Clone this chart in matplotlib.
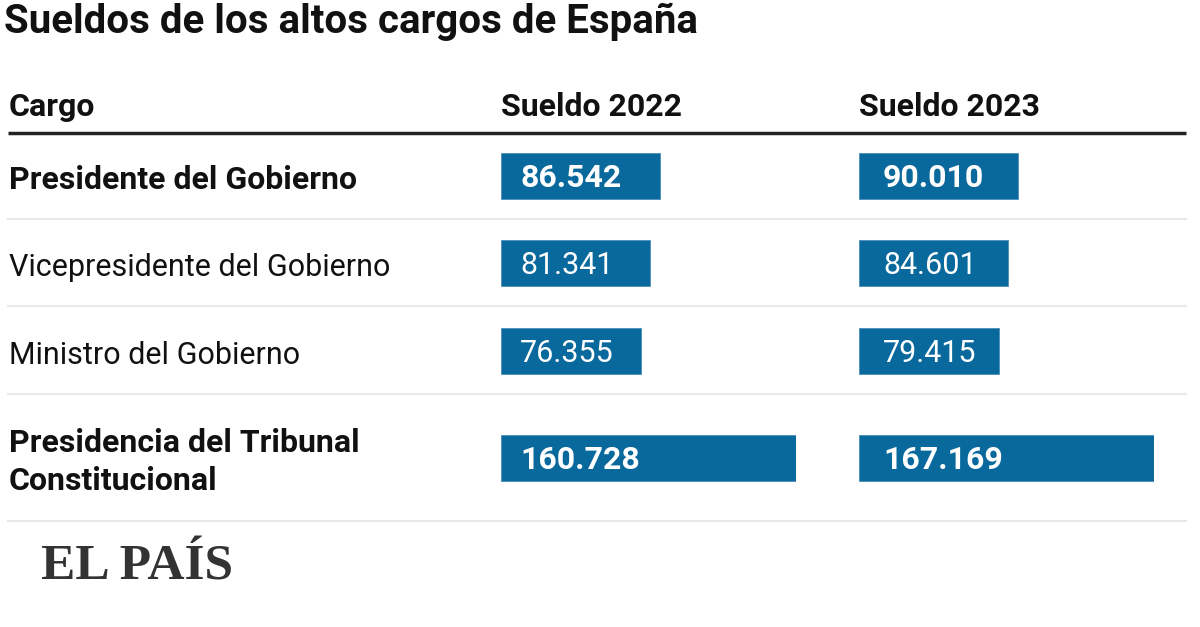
import matplotlib
matplotlib.use("Agg")
import matplotlib.pyplot as plt

# data
cargos = ["Presidente del Gobierno", "Vicepresidente del Gobierno",
          "Ministro del Gobierno", "Presidencia del Tribunal\nConstitucional"]
sueldo_2022 = [86542, 81341, 76355, 160728]
sueldo_2023 = [90010, 84601, 79415, 167169]
destacado = [True, False, False, True]
columnas = ["Cargo", "Sueldo 2022", "Sueldo 2023"]
titulo = "Sueldos de los altos cargos de España"

W, H = 1200, 627
azul = "#09699c"
fuente = "Roboto"

def fmt(v):
    return f"{v:,}".replace(",", ".")

fig = plt.figure(figsize=(W / 100, H / 100), dpi=100)
fig.patch.set_facecolor("white")

# base axes in pixel coordinates for text and rules
ax = fig.add_axes([0, 0, 1, 1])
ax.set_xlim(0, W)
ax.set_ylim(H, 0)
ax.axis("off")

ax.text(4, 22, titulo, fontsize=29, fontweight="bold", family=fuente,
        color="#111111", va="center", ha="left")

col_x = [9, 501, 859]
for x, c in zip(col_x, columnas):
    ax.text(x, 107, c, fontsize=23, fontweight="bold", family=fuente,
            color="#111111", va="center", ha="left")
ax.plot([8, 1186], [133, 133], color="#222222", lw=2.5, solid_capstyle="butt")

row_y = [176, 263, 351, 458]
sep_y = [219, 306, 394, 521]
for y in sep_y:
    ax.plot([8, 1186], [y, y], color="#e8e8e8", lw=1.5)

for y, lab, b in zip(row_y, cargos, destacado):
    ax.text(9, y + 4, lab, fontsize=23 if b else 22,
            fontweight="bold" if b else "normal",
            family=fuente, color="#111111", va="center", ha="left",
            linespacing=1.32)

# one bar axes per column, each scaled to its own max
bar_w = 295
for x0, vals, pad in [(501, sueldo_2022, 19), (859, sueldo_2023, 24)]:
    bax = fig.add_axes([x0 / W, 0, bar_w / W, 1])
    bax.set_xlim(0, max(vals))
    bax.set_ylim(H, 0)
    bax.axis("off")
    bax.patch.set_alpha(0)
    bax.barh(row_y, vals, height=46, color=azul, edgecolor="#4a8fb8", lw=0.6)
    vmax = max(vals)
    for y, v, b in zip(row_y, vals, destacado):
        bax.text(pad / bar_w * vmax, y + 2, fmt(v), fontsize=23 if b else 22,
                 fontweight="bold" if b else "normal", family=fuente,
                 color="white", va="center", ha="left")

ax.text(41, 568, "EL PAÍS", fontsize=37, fontweight="bold",
        family="Liberation Serif", color="#333333", va="center", ha="left")

fig.savefig("out.png", dpi=100, facecolor="white")
